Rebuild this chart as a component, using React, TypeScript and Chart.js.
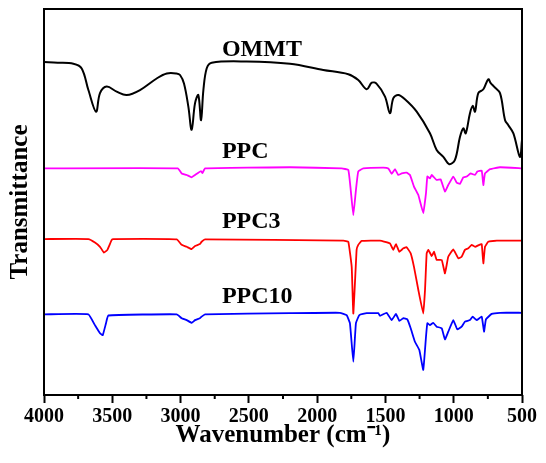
import React, { useEffect, useRef } from "react";
import { Chart, registerables } from "chart.js";

Chart.register(...registerables);

// Wavenumber (cm-1) and transmittance (a.u., stacked offsets) per spectrum
const ommtX = [4000, 3900, 3785, 3724, 3675, 3619, 3590, 3541, 3468, 3395, 3297, 3175, 3101, 3030, 3004, 2975, 2943, 2919, 2894, 2870, 2850, 2833, 2809, 2772, 2516, 2199, 1955, 1772, 1699, 1637, 1600, 1564, 1503, 1467, 1442, 1406, 1357, 1271, 1174, 1125, 1076, 1033, 991, 954, 930, 912, 881, 861, 844, 820, 783, 747, 729, 705, 661, 624, 600, 563, 515, 500];
const ommtY = [86.3, 86.1, 85.8, 84.6, 79.0, 73.4, 78.2, 79.9, 78.6, 77.7, 79.0, 82.0, 83.3, 83.3, 82.9, 80.7, 74.7, 68.7, 75.6, 77.7, 71.2, 79.0, 84.6, 86.1, 86.4, 85.8, 84.2, 83.1, 81.6, 79.2, 80.9, 80.6, 77.3, 73.0, 76.9, 77.7, 76.6, 73.4, 67.8, 63.5, 61.7, 59.8, 60.9, 66.9, 69.1, 67.8, 73.0, 74.9, 73.4, 78.2, 79.2, 81.8, 80.8, 79.9, 78.2, 71.2, 69.9, 67.8, 61.7, 66.1];

const ppcX = [4000, 3020, 2992, 2955, 2919, 2894, 2870, 2850, 2840, 2821, 2199, 1820, 1772, 1754, 1735, 1716, 1699, 1662, 1516, 1479, 1454, 1430, 1406, 1381, 1345, 1320, 1291, 1259, 1223, 1203, 1193, 1174, 1161, 1125, 1096, 1064, 1040, 1003, 978, 954, 930, 905, 876, 844, 827, 795, 783, 771, 734, 661, 500];
const ppcY = [58.7, 58.7, 57.4, 57.0, 56.4, 57.0, 57.6, 58.0, 57.5, 58.7, 59.0, 58.7, 58.3, 53.1, 46.6, 53.1, 57.9, 58.7, 58.9, 58.7, 57.3, 58.5, 57.0, 57.4, 57.6, 57.0, 54.0, 51.8, 47.1, 52.3, 56.6, 56.1, 57.0, 55.7, 55.9, 52.7, 54.4, 56.6, 55.0, 54.7, 56.4, 56.6, 57.4, 57.0, 57.9, 58.1, 54.4, 57.4, 58.5, 59.0, 58.7];

const ppc3X = [4000, 3675, 3627, 3590, 3561, 3536, 3504, 3492, 3028, 2992, 2955, 2919, 2894, 2858, 2846, 2821, 1808, 1772, 1747, 1735, 1711, 1699, 1674, 1540, 1503, 1467, 1442, 1423, 1398, 1369, 1345, 1315, 1291, 1259, 1223, 1210, 1198, 1186, 1161, 1144, 1125, 1088, 1064, 1040, 1003, 966, 942, 918, 893, 869, 844, 813, 795, 783, 771, 747, 685, 500];
const ppc3Y = [40.4, 40.4, 39.5, 38.4, 36.9, 37.6, 40.2, 40.4, 40.3, 38.9, 38.4, 37.8, 38.6, 39.1, 39.7, 40.3, 40.0, 39.7, 33.2, 21.1, 37.6, 38.9, 39.9, 40.0, 39.7, 39.3, 37.6, 39.1, 37.1, 38.0, 38.3, 36.7, 33.2, 27.2, 21.1, 27.3, 36.7, 37.6, 36.0, 37.1, 35.0, 35.0, 31.5, 35.8, 37.7, 35.4, 35.8, 37.6, 38.0, 38.9, 38.4, 38.9, 39.1, 34.1, 38.4, 39.7, 40.0, 40.0];

const ppc10X = [4000, 3675, 3627, 3590, 3570, 3546, 3529, 3028, 2992, 2955, 2919, 2894, 2858, 2846, 2821, 2199, 1833, 1784, 1760, 1735, 1716, 1691, 1637, 1552, 1540, 1491, 1454, 1423, 1398, 1369, 1340, 1315, 1284, 1252, 1223, 1203, 1193, 1174, 1150, 1125, 1088, 1064, 1040, 1003, 974, 942, 918, 881, 861, 832, 795, 778, 764, 722, 661, 500];
const ppc10Y = [20.9, 20.9, 18.1, 16.0, 15.5, 18.6, 20.6, 20.9, 19.9, 19.4, 18.7, 19.4, 19.9, 20.3, 20.9, 21.2, 21.3, 20.7, 18.6, 8.6, 18.6, 20.7, 21.2, 21.2, 20.5, 21.3, 19.4, 21.0, 19.2, 19.9, 19.6, 17.3, 13.8, 11.7, 6.5, 15.1, 18.6, 18.1, 18.7, 17.7, 17.3, 14.4, 16.4, 19.4, 17.0, 17.7, 19.0, 19.4, 20.3, 19.4, 20.3, 16.4, 19.6, 21.0, 21.3, 21.3];

const seriesNames = ["OMMT", "PPC", "PPC3", "PPC10"];
const seriesColors = ["#000000", "#ff00ff", "#ff0000", "#0000ff"];
const labelX = [2697, 2697, 2697, 2697];
const labelY = [89.4, 63.0, 44.8, 25.4];

const xTickValues = [4000, 3500, 3000, 2500, 2000, 1500, 1000, 500];
const xMinorValues = [3750, 3250, 2750, 2250, 1750, 1250, 750];

const FONT = "'Liberation Serif', 'Times New Roman', serif";

const toPoints = (xs: number[], ys: number[]) => xs.map((x, i) => ({ x, y: ys[i] }));

const framePlugin = {
  id: "frameAndLabels",
  afterDatasetsDraw(chart: any) {
    const { ctx, chartArea, scales } = chart;
    const xs = scales.x;
    const ys = scales.y;
    ctx.save();
    // frame
    ctx.strokeStyle = "#000";
    ctx.lineWidth = 2;
    ctx.strokeRect(chartArea.left, chartArea.top, chartArea.right - chartArea.left, chartArea.bottom - chartArea.top);
    // minor ticks
    ctx.lineWidth = 2;
    xMinorValues.forEach((v) => {
      const px = xs.getPixelForValue(v);
      ctx.beginPath();
      ctx.moveTo(px, chartArea.bottom);
      ctx.lineTo(px, chartArea.bottom + 4);
      ctx.stroke();
    });
    // series labels
    ctx.fillStyle = "#000";
    ctx.font = `bold 24px ${FONT}`;
    ctx.textAlign = "left";
    ctx.textBaseline = "middle";
    seriesNames.forEach((name, i) => {
      ctx.fillText(name, xs.getPixelForValue(labelX[i]), ys.getPixelForValue(labelY[i]));
    });
    ctx.restore();
  },
};

export default function App() {
  const ref = useRef<HTMLCanvasElement | null>(null);
  useEffect(() => {
    if (!ref.current) return;
    const xsData = [ommtX, ppcX, ppc3X, ppc10X];
    const ysData = [ommtY, ppcY, ppc3Y, ppc10Y];
    const chart = new Chart(ref.current, {
      type: "line",
      data: {
        datasets: seriesNames.map((name, i) => ({
          label: name,
          data: toPoints(xsData[i], ysData[i]),
          borderColor: seriesColors[i],
          backgroundColor: seriesColors[i],
          borderWidth: i === 0 ? 2 : 1.8,
          pointRadius: 0,
          tension: i === 0 ? 0.35 : 0.1,
          fill: false,
        })),
      },
      options: {
        responsive: true,
        maintainAspectRatio: false,
        animation: false,
        layout: { padding: { top: 9, right: 24, left: 0, bottom: 0 } },
        plugins: { legend: { display: false }, tooltip: { enabled: false } },
        scales: {
          x: {
            type: "linear",
            reverse: true,
            min: 500,
            max: 4000,
            afterFit: (s: any) => { s.height = 68; },
            afterBuildTicks: (s: any) => { s.ticks = xTickValues.map((v) => ({ value: v })); },
            border: { display: false },
            grid: { drawOnChartArea: false, drawTicks: true, tickLength: 8, tickWidth: 2, tickColor: "#000" },
            ticks: {
              color: "#000",
              font: { family: FONT, size: 20, weight: "bold" },
              padding: 2,
              maxRotation: 0,
              autoSkip: false,
              callback: (v: any) => String(v),
            },
            title: {
              display: true,
              text: "Wavenumber (cm\u207B\u00B9)",
              color: "#000",
              font: { family: FONT, size: 25, weight: "bold" },
              padding: { top: 0, bottom: 12 },
            },
          },
          y: {
            min: 0,
            max: 100,
            afterFit: (s: any) => { s.width = 44; },
            border: { display: false },
            grid: { display: false },
            ticks: { display: false },
            title: {
              display: true,
              text: "Transmittance",
              color: "#000",
              font: { family: FONT, size: 25, weight: "bold" },
              padding: { top: 6, bottom: 0 },
            },
          },
        },
      },
      plugins: [framePlugin],
    } as any);
    return () => chart.destroy();
  }, []);
  return (
    <div style={{ position: "absolute", left: 0, top: 0, width: 546, height: 463, background: "#fff" }}>
      <canvas ref={ref} />
    </div>
  );
}
